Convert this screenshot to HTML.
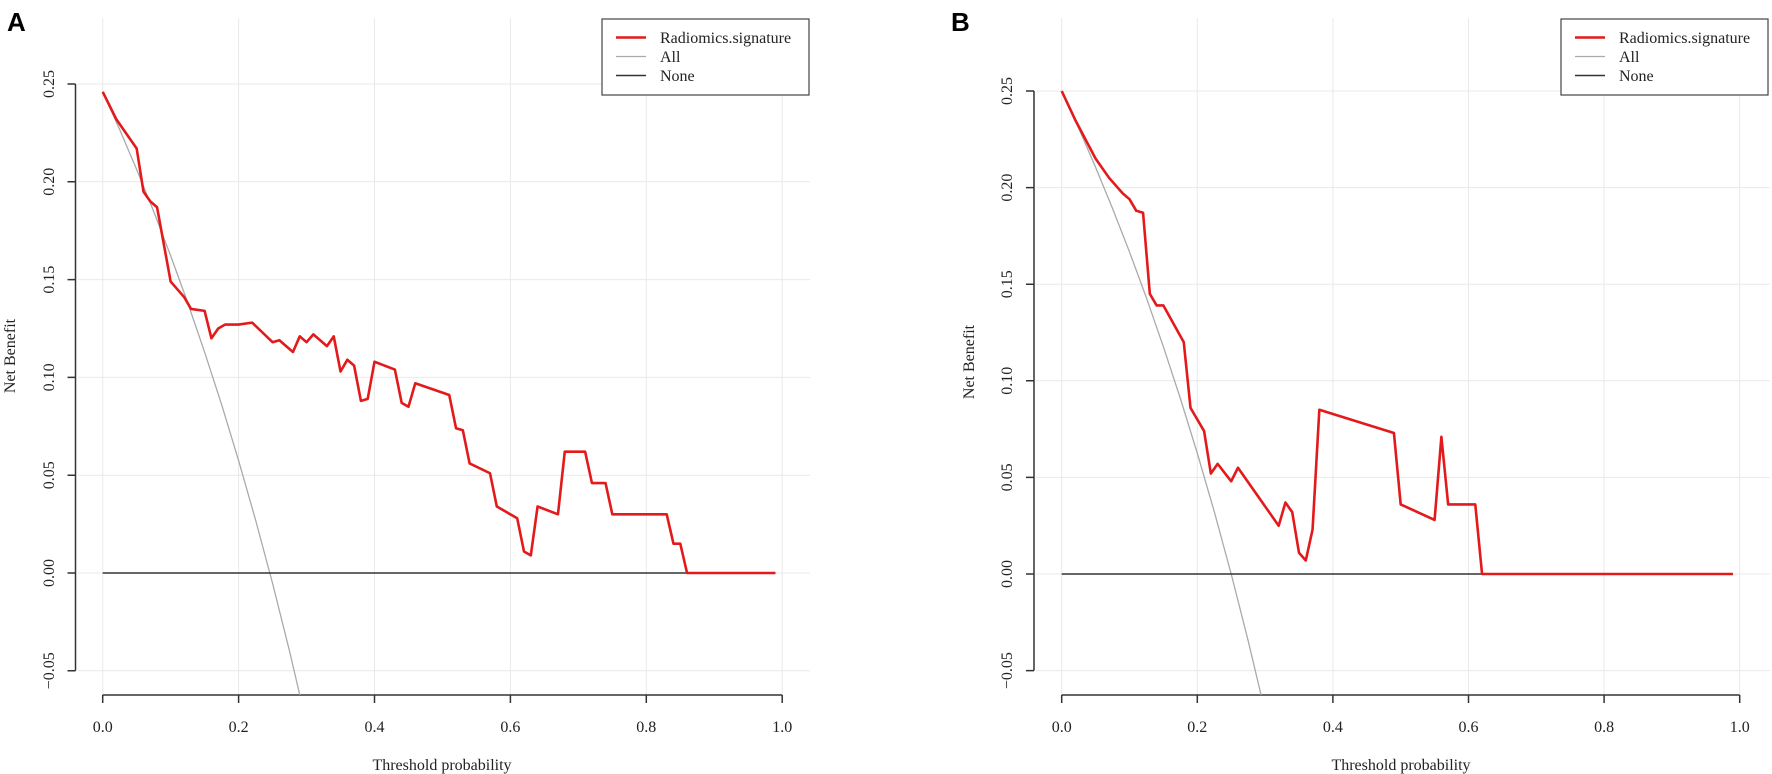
<!DOCTYPE html>
<html><head><meta charset="utf-8"><style>
html,body{margin:0;padding:0;background:#fff;}
svg{display:block;font-family:"Liberation Serif",serif;}
</style></head><body>
<svg width="1772" height="774" viewBox="0 0 1772 774" xmlns="http://www.w3.org/2000/svg">
<defs>
<clipPath id="cA"><rect x="76" y="10" width="740" height="685"/></clipPath>
<clipPath id="cB"><rect x="1035" y="10" width="737" height="685"/></clipPath>
</defs>
<!-- Panel labels -->
<text x="7" y="31" font-family="Liberation Sans, sans-serif" font-weight="bold" font-size="26">A</text>
<text x="951" y="31" font-family="Liberation Sans, sans-serif" font-weight="bold" font-size="26">B</text>

<!-- ===== Panel A ===== -->
<g stroke="#e9e9e9" stroke-width="1">
<line x1="102.7" y1="18" x2="102.7" y2="695"/><line x1="238.6" y1="18" x2="238.6" y2="695"/><line x1="374.5" y1="18" x2="374.5" y2="695"/><line x1="510.4" y1="18" x2="510.4" y2="695"/><line x1="646.3" y1="18" x2="646.3" y2="695"/><line x1="782.2" y1="18" x2="782.2" y2="695"/>
<line x1="78" y1="84" x2="810" y2="84"/><line x1="78" y1="181.8" x2="810" y2="181.8"/><line x1="78" y1="279.6" x2="810" y2="279.6"/><line x1="78" y1="377.4" x2="810" y2="377.4"/><line x1="78" y1="475.2" x2="810" y2="475.2"/><line x1="78" y1="573" x2="810" y2="573"/><line x1="78" y1="670.8" x2="810" y2="670.8"/>
</g>
<g stroke="#333" stroke-width="1.5" fill="none">
<path d="M75.5 84V670.8 M67.5 84H75.5 M67.5 181.8H75.5 M67.5 279.6H75.5 M67.5 377.4H75.5 M67.5 475.2H75.5 M67.5 573H75.5 M67.5 670.8H75.5"/>
<path d="M102.7 695H782.2 M102.7 695V703 M238.6 695V703 M374.5 695V703 M510.4 695V703 M646.3 695V703 M782.2 695V703"/>
</g>
<g font-size="16" fill="#222" text-anchor="middle">
<text transform="translate(54,84) rotate(-90)">0.25</text>
<text transform="translate(54,181.8) rotate(-90)">0.20</text>
<text transform="translate(54,279.6) rotate(-90)">0.15</text>
<text transform="translate(54,377.4) rotate(-90)">0.10</text>
<text transform="translate(54,475.2) rotate(-90)">0.05</text>
<text transform="translate(54,573) rotate(-90)">0.00</text>
<text transform="translate(54,670.8) rotate(-90)">−0.05</text>
<text x="102.7" y="732">0.0</text><text x="238.6" y="732">0.2</text><text x="374.5" y="732">0.4</text><text x="510.4" y="732">0.6</text><text x="646.3" y="732">0.8</text><text x="782.2" y="732">1.0</text>
<text x="442" y="770">Threshold probability</text>
<text transform="translate(15,356) rotate(-90)">Net Benefit</text>
</g>
<g clip-path="url(#cA)">
<g transform="translate(102.7,573) scale(679.5,-1956)" fill="none">
<polyline vector-effect="non-scaling-stroke" stroke="#aaa" stroke-width="1.3" points="0,.246 .025,.2267 .05,.2063 .075,.1849 .1,.1622 .125,.1383 .15,.1129 .175,.0861 .2,.0575 .225,.0271 .25,-.0053 .275,-.04 .3,-.0771"/>
<polyline vector-effect="non-scaling-stroke" stroke="#333" stroke-width="1.5" points="0,0 .99,0"/>
<polyline vector-effect="non-scaling-stroke" stroke="#e31a1c" stroke-width="2.6" stroke-linejoin="round" points="0,.246 .02,.232 .05,.217 .06,.195 .07,.19 .08,.187 .10,.149 .12,.141 .13,.135 .15,.134 .16,.120 .17,.125 .18,.127 .20,.127 .22,.128 .25,.118 .26,.119 .28,.113 .29,.121 .30,.118 .31,.122 .33,.116 .34,.121 .35,.103 .36,.109 .37,.106 .38,.088 .39,.089 .40,.108 .43,.104 .44,.087 .45,.085 .46,.097 .51,.091 .52,.074 .53,.073 .54,.056 .57,.051 .58,.034 .61,.028 .62,.011 .63,.009 .64,.034 .67,.030 .68,.062 .71,.062 .72,.046 .74,.046 .75,.030 .83,.030 .84,.015 .85,.015 .86,0 .99,0"/>
</g>
</g>
<rect x="602" y="19" width="207" height="76" fill="#fff" stroke="#444" stroke-width="1.2"/>
<line x1="616" y1="37.5" x2="646" y2="37.5" stroke="#e31a1c" stroke-width="2.5"/>
<line x1="616" y1="56.5" x2="646" y2="56.5" stroke="#aaa" stroke-width="1.3"/>
<line x1="616" y1="75.5" x2="646" y2="75.5" stroke="#333" stroke-width="1.5"/>
<g font-size="16" fill="#222"><text x="660" y="43">Radiomics.signature</text><text x="660" y="62">All</text><text x="660" y="81">None</text></g>

<!-- ===== Panel B ===== -->
<g stroke="#e9e9e9" stroke-width="1">
<line x1="1061.7" y1="18" x2="1061.7" y2="695"/><line x1="1197.3" y1="18" x2="1197.3" y2="695"/><line x1="1332.9" y1="18" x2="1332.9" y2="695"/><line x1="1468.5" y1="18" x2="1468.5" y2="695"/><line x1="1604.1" y1="18" x2="1604.1" y2="695"/><line x1="1739.7" y1="18" x2="1739.7" y2="695"/>
<line x1="1036" y1="91" x2="1770" y2="91"/><line x1="1036" y1="187.6" x2="1770" y2="187.6"/><line x1="1036" y1="284.2" x2="1770" y2="284.2"/><line x1="1036" y1="380.8" x2="1770" y2="380.8"/><line x1="1036" y1="477.4" x2="1770" y2="477.4"/><line x1="1036" y1="574" x2="1770" y2="574"/><line x1="1036" y1="670.6" x2="1770" y2="670.6"/>
</g>
<g stroke="#333" stroke-width="1.5" fill="none">
<path d="M1034 91V670.6 M1026 91H1034 M1026 187.6H1034 M1026 284.2H1034 M1026 380.8H1034 M1026 477.4H1034 M1026 574H1034 M1026 670.6H1034"/>
<path d="M1061.7 695H1739.7 M1061.7 695V703 M1197.3 695V703 M1332.9 695V703 M1468.5 695V703 M1604.1 695V703 M1739.7 695V703"/>
</g>
<g font-size="16" fill="#222" text-anchor="middle">
<text transform="translate(1012,91) rotate(-90)">0.25</text>
<text transform="translate(1012,187.6) rotate(-90)">0.20</text>
<text transform="translate(1012,284.2) rotate(-90)">0.15</text>
<text transform="translate(1012,380.8) rotate(-90)">0.10</text>
<text transform="translate(1012,477.4) rotate(-90)">0.05</text>
<text transform="translate(1012,574) rotate(-90)">0.00</text>
<text transform="translate(1012,670.6) rotate(-90)">−0.05</text>
<text x="1061.7" y="732">0.0</text><text x="1197.3" y="732">0.2</text><text x="1332.9" y="732">0.4</text><text x="1468.5" y="732">0.6</text><text x="1604.1" y="732">0.8</text><text x="1739.7" y="732">1.0</text>
<text x="1401" y="770">Threshold probability</text>
<text transform="translate(974,362) rotate(-90)">Net Benefit</text>
</g>
<g clip-path="url(#cB)">
<g transform="translate(1061.7,574) scale(678,-1932)" fill="none">
<polyline vector-effect="non-scaling-stroke" stroke="#aaa" stroke-width="1.3" points="0,.25 .025,.2308 .05,.2105 .075,.1892 .1,.1667 .125,.1429 .15,.1176 .175,.0909 .2,.0625 .225,.0323 .25,0 .275,-.0345 .3,-.0714"/>
<polyline vector-effect="non-scaling-stroke" stroke="#333" stroke-width="1.5" points="0,0 .99,0"/>
<polyline vector-effect="non-scaling-stroke" stroke="#e31a1c" stroke-width="2.6" stroke-linejoin="round" points="0,.25 .02,.235 .05,.215 .07,.205 .09,.197 .10,.194 .11,.188 .12,.187 .13,.145 .14,.139 .15,.139 .18,.12 .19,.086 .21,.074 .22,.052 .23,.057 .25,.048 .26,.055 .32,.025 .33,.037 .34,.032 .35,.011 .36,.007 .37,.023 .38,.085 .49,.073 .50,.036 .55,.028 .56,.071 .57,.036 .61,.036 .62,0 .99,0"/>
</g>
</g>
<rect x="1561" y="19" width="207" height="76" fill="#fff" stroke="#444" stroke-width="1.2"/>
<line x1="1575" y1="37.5" x2="1605" y2="37.5" stroke="#e31a1c" stroke-width="2.5"/>
<line x1="1575" y1="56.5" x2="1605" y2="56.5" stroke="#aaa" stroke-width="1.3"/>
<line x1="1575" y1="75.5" x2="1605" y2="75.5" stroke="#333" stroke-width="1.5"/>
<g font-size="16" fill="#222"><text x="1619" y="43">Radiomics.signature</text><text x="1619" y="62">All</text><text x="1619" y="81">None</text></g>
</svg>
</body></html>
